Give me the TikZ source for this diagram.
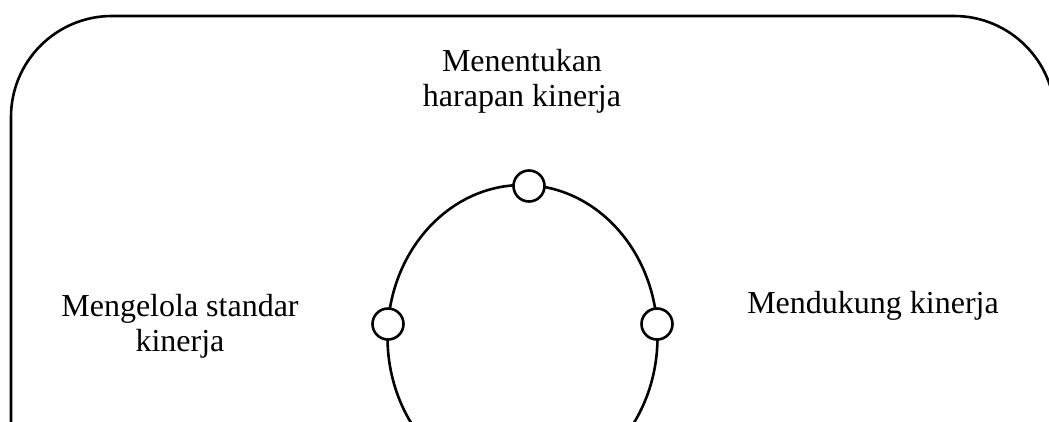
\documentclass[tikz,border=0pt]{standalone}
\usepackage{fontspec}
\setmainfont{Liberation Serif}
\begin{document}
\begin{tikzpicture}[x=1pt,y=-1pt, line width=2.6pt,
  lbl/.style={font=\fontsize{32}{35}\selectfont, align=center, inner sep=0pt, anchor=base},
  dot/.style={circle, draw, fill=white, minimum size=31pt, inner sep=0pt}]
\useasboundingbox (0,0) rectangle (1049,421);
\clip (0,0) rectangle (1049,421);
\draw[rounded corners=101pt] (11,600) -- (11,16) -- (1055,16) -- (1055,600);
\draw (522.5,337) ellipse [x radius=135, y radius=152];
\node[dot] (top) at (529,186) {};
\node[dot] (left) at (388,324) {};
\node[dot] (right) at (657,324) {};
\node[lbl] (t1) at (522,106) {Menentukan\\harapan kinerja};
\node[lbl] (t2) at (180,351) {Mengelola standar\\kinerja};
\node[lbl] (t3) at (873,313) {Mendukung kinerja};
\end{tikzpicture}
\end{document}
